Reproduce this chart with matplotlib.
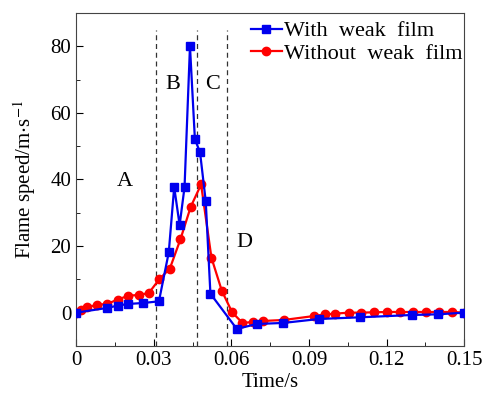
import matplotlib
matplotlib.use('Agg')
import matplotlib.pyplot as plt
from matplotlib.ticker import MultipleLocator

plt.rcParams['font.family'] = ['Liberation Serif', 'DejaVu Serif']
plt.rcParams['mathtext.fontset'] = 'stix'

# with weak film
t_with = [0, 0.0119, 0.016, 0.020, 0.026, 0.032, 0.0358, 0.0379, 0.040, 0.0419,
          0.044, 0.0459, 0.0479, 0.0501, 0.0519, 0.0621, 0.0698, 0.080, 0.0939,
          0.1098, 0.130, 0.140, 0.150]
v_with = [0, 1.4, 2.1, 2.6, 2.9, 3.4, 18.1, 37.7, 26.3, 37.7,
          80, 52.1, 48.1, 33.4, 5.7, -4.9, -3.4, -3.1, -1.9,
          -1.4, -0.7, -0.5, 0]

# without weak film
t_without = [0, 0.0018, 0.0041, 0.0082, 0.0121, 0.0161, 0.0201, 0.0242, 0.0281,
             0.0322, 0.0362, 0.0403, 0.0443, 0.0483, 0.0523, 0.0563, 0.0603,
             0.0643, 0.0683, 0.0723, 0.0803, 0.0921, 0.0963, 0.1002, 0.1053,
             0.110, 0.1152, 0.1202, 0.1252, 0.1301, 0.1352, 0.1402, 0.1452, 0.150]
v_without = [0, 0.9, 1.7, 2.3, 2.7, 3.9, 5.1, 5.3, 5.9,
             10.1, 13.2, 22.0, 31.8, 38.5, 16.5, 6.6, 0.1,
             -3.1, -2.8, -2.5, -2.2, -1.0, -0.5, -0.3, 0,
             0, 0.1, 0.2, 0.2, 0.2, 0.2, 0.2, 0.2, 0]

stage_bounds = [0.031, 0.0468, 0.0585]
stage_labels = ['A', 'B', 'C', 'D']
stage_pos = [(0.019, 39.5), (0.0375, 68.5), (0.0527, 68.5), (0.065, 21)]

xticks = [0, 0.03, 0.06, 0.09, 0.12, 0.15]
xticklabels = ['0', '0.03', '0.06', '0.09', '0.12', '0.15']
yticks = [0, 20, 40, 60, 80]

fig = plt.figure(figsize=(4.82, 3.94), dpi=100)
ax = fig.add_axes([0.158, 0.122, 0.805, 0.845])

ax.plot(t_with, v_with, '-s', color='#0000ee', lw=1.6, ms=5.5, label='With  weak  film', zorder=3)
ax.plot(t_without, v_without, '-o', color='#ff0000', lw=1.6, ms=6, label='Without  weak  film', zorder=2)

for xb in stage_bounds:
    ax.vlines(xb, -10, 85, colors='#333333', linestyles=(0, (4, 3)), lw=0.9, zorder=1)

for lab, (x, y) in zip(stage_labels, stage_pos):
    ax.text(x, y, lab, fontsize=16, ha='center', va='center')

ax.set_xlim(0, 0.15)
ax.set_ylim(-10, 90)
ax.set_xticks(xticks)
ax.set_xticklabels(xticklabels)
ax.set_yticks(yticks)
ax.xaxis.set_minor_locator(MultipleLocator(0.015))
ax.yaxis.set_minor_locator(MultipleLocator(10))
ax.tick_params(which='both', direction='in', labelsize=15, top=False, right=False)
ax.tick_params(which='major', length=5)
ax.tick_params(which='minor', length=3)
for s in ax.spines.values():
    s.set_color('#444444')

ax.set_xlabel('Time/s', fontsize=15, labelpad=2)
ax.set_ylabel('Flame speed/m$\\cdot$s$^{-1}$', fontsize=15, labelpad=9)

ax.legend(loc='upper right', bbox_to_anchor=(1.016, 1.0), frameon=False, fontsize=16,
          handlelength=1.4, handletextpad=0.1, borderaxespad=0.05, labelspacing=0.1,
          borderpad=0.3)

fig.savefig('out.png', dpi=100)
